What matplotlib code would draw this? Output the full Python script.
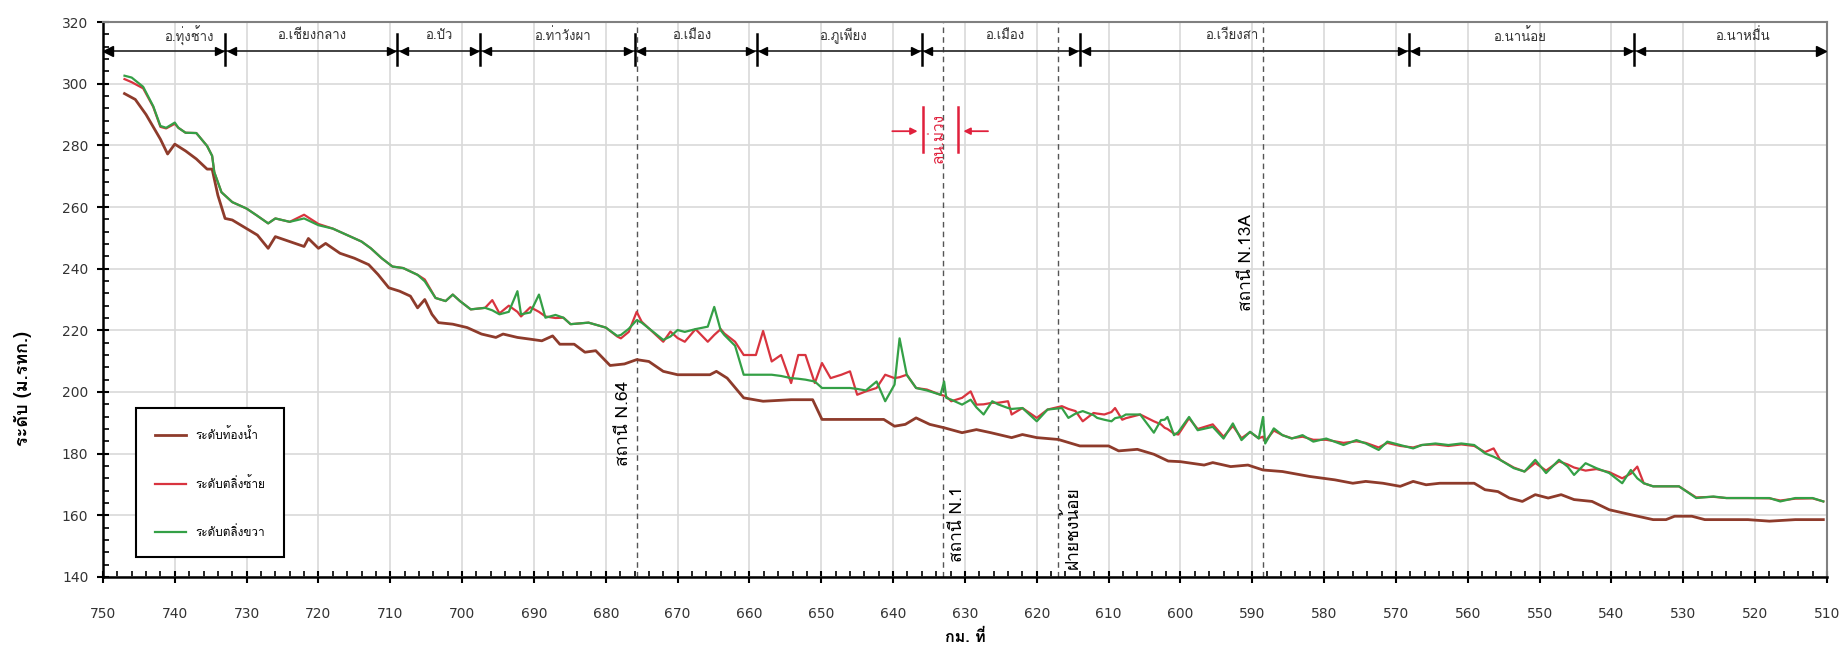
import numpy as np
import matplotlib
matplotlib.use("Agg")
import matplotlib.pyplot as plt
from matplotlib import font_manager, ft2font
from matplotlib.ticker import MultipleLocator

# find a font that can draw Thai
thai_font = None
for f in sorted(font_manager.findSystemFonts()):
    try:
        if ord("ก") in ft2font.FT2Font(f).get_charmap():
            thai_font = font_manager.FontProperties(fname=f).get_name()
            break
    except Exception:
        pass
fams = ["DejaVu Sans"]
if thai_font:
    fams = [thai_font, "DejaVu Sans"]
plt.rcParams["font.family"] = fams

# ---- data ----
km_bed = [747, 745.5, 744, 742, 741, 740, 738.5, 737, 735.5, 734.8, 734, 733, 732, 730,
          728.5, 727, 726, 724, 722, 721.4, 720, 719, 717, 715, 713, 711.7, 710.2, 708.7,
          707.2, 706.2, 705.2, 704.2, 703.3, 701.3, 699.3, 697.3, 695.3, 694.3, 692.3,
          690.4, 688.9, 687.4, 686.4, 684.4, 682.9, 681.4, 679.4, 677.4, 675.7, 674, 672,
          670, 665.5, 664.6, 663.1, 660.8, 658.1, 654.2, 651.2, 649.9, 646, 641.3, 639.8,
          638.3, 636.8, 634.9, 632.9, 630.4, 628.4, 626.4, 623.5, 622, 620, 617, 614, 610,
          608.6, 606, 603.7, 601.7, 600, 596.7, 595.5, 593, 590.6, 588.5, 585.8, 582,
          578.5, 576, 574.2, 571.8, 569.4, 567.6, 565.8, 563.9, 561.5, 559.1, 557.6,
          555.8, 554.2, 552.4, 550.6, 548.8, 547, 545.2, 542.7, 540.3, 537.3, 534.2,
          532.4, 531.2, 528.8, 527, 524, 521, 518, 514.4, 510.5]
bed = [296.8, 294.9, 290, 282, 277.2, 280.4, 278.2, 275.6, 272.3, 272.3, 263.8, 256.3,
       255.8, 253, 250.9, 246.6, 250.4, 248.8, 247.2, 249.8, 246.6, 248.2, 245, 243.4,
       241.3, 238.1, 233.8, 232.7, 231.1, 227.3, 230, 225.2, 222.5, 222, 220.9, 218.8,
       217.7, 218.8, 217.7, 217.1, 216.6, 218.2, 215.5, 215.5, 212.9, 213.4, 208.6,
       209.1, 210.5, 209.9, 206.7, 205.6, 205.6, 206.7, 204.5, 198.1, 197, 197.5, 197.5,
       191.1, 191.1, 191.1, 188.9, 189.5, 191.6, 189.5, 188.4, 186.8, 187.8, 186.8,
       185.2, 186.2, 185.2, 184.6, 182.5, 182.5, 180.9, 181.4, 179.8, 177.6, 177.4,
       176.3, 177.1, 175.8, 176.3, 174.7, 174.2, 172.6, 171.5, 170.4, 171, 170.4, 169.4,
       171, 169.9, 170.4, 170.4, 170.4, 168.3, 167.7, 165.6, 164.5, 166.7, 165.6, 166.7,
       165.1, 164.5, 161.8, 160.2, 158.6, 158.6, 159.7, 159.7, 158.6, 158.6, 158.6,
       158.1, 158.6, 158.6]

km_bank = [747, 746, 744.4, 743, 742, 741.2, 740, 739.5, 738.5, 737, 735.5, 734.8, 734.5,
           733.5, 732, 730, 728.6, 727, 726, 724, 722, 720, 718, 716, 714, 712.7, 711.2,
           709.7, 708.2, 706.2, 705.2, 703.7, 702.3, 701.3, 700.3, 698.8, 696.8, 695.8,
           694.8, 693.5, 692.3, 691.8, 690.5, 689.3, 688.4, 687, 685.9, 684.9, 682.4, 680,
           678.4, 677.9, 676.8, 675.7, 675, 672, 671, 670, 669, 667.5, 665.8, 664.9, 664,
           663.5, 662, 660.8, 659.1, 658.1, 656.9, 655.6, 654.2, 653.2, 652.2, 650.9,
           649.9, 648.7, 647.2, 646, 645, 643.8, 642.3, 641.1, 639.8, 639.1, 638.1, 636.8,
           635.3, 633.4, 632.9, 632.6, 631.9, 630.4, 629.2, 628.4, 627.4, 626.2, 625.4,
           624, 623.5, 622, 620, 618.5, 616.5, 615.6, 614.6, 613.6, 612.1, 611.6, 610.6,
           609.6, 609.1, 608.1, 607.6, 605.6, 603.7, 602.7, 602.2, 601.8, 600.9, 600.3,
           598.8, 597.6, 595.5, 594, 592.7, 591.5, 590.3, 589.1, 588.5, 588.2, 587, 585.8,
           584.5, 583, 581.5, 579.7, 577.3, 575.5, 574.2, 572.4, 571.2, 569.4, 567.6,
           566.4, 564.5, 562.7, 560.9, 559.1, 557.6, 556.4, 555.5, 553.6, 552.1, 550.6,
           549.1, 547.3, 546.1, 545.2, 543.6, 542.1, 540.3, 538.5, 537.3, 536.4, 535.5,
           534.2, 532.4, 530.6, 528.2, 525.8, 524, 521, 518, 516.5, 514.4, 512, 510.5]
right_bank = [302.6, 302, 299, 292.7, 286.3, 285.7, 287.4, 285.7, 284.1, 284, 279.8, 276.6,
              271.3, 264.8, 261.6, 259.5, 257.3, 254.7, 256.3, 255.2, 256.3, 254.1, 253,
              250.9, 248.8, 246.6, 243.4, 240.7, 240.2, 238, 235.9, 230.5, 229.5, 231.6,
              229.5, 226.8, 227.3, 226.5, 225.2, 226, 232.7, 225.2, 225.8, 231.6, 224.1,
              225, 224.1, 222, 222.5, 220.9, 218.2, 218.5, 220.5, 223.3, 222.5, 216.9, 218,
              220.1, 219.5, 220.4, 221.2, 227.6, 220, 218.5, 215, 205.6, 205.6, 205.6,
              205.6, 205.2, 204.5, 204.3, 204, 203.4, 201.3, 201.3, 201.3, 201.3, 201,
              200.5, 203.4, 197, 202.4, 217.4, 205.6, 201.3, 200.5, 199.1, 203.4, 198.1,
              197.5, 195.9, 197.5, 195, 192.7, 197, 196, 194.8, 194.5, 194.8, 190.5, 194.3,
              194.8, 191.6, 193, 193.8, 192.5, 191.6, 191, 190.5, 191.5, 192, 192.7, 192.7,
              186.8, 190.9, 191, 191.9, 186, 187, 191.9, 187.6, 188.7, 184.9, 189.8, 184.4,
              187.1, 184.9, 191.9, 183.3, 188.2, 186, 184.9, 186, 183.9, 184.9, 182.8,
              184.4, 183.3, 181.2, 183.9, 182.8, 181.7, 182.8, 183.3, 182.8, 183.3, 182.8,
              180.1, 179, 178, 175.3, 174.2, 178, 173.7, 178, 175.8, 173.1, 176.9, 175.3,
              173.7, 170.4, 174.7, 172, 170.4, 169.4, 169.4, 169.4, 165.6, 166.1, 165.6,
              165.6, 165.6, 164.5, 165.6, 165.6, 164.5]
left_bank = [301.5, 300.5, 298.5, 292.5, 286, 285.5, 287, 285.7, 284.1, 284, 279.8, 276.6,
             271.3, 264.8, 261.6, 259.5, 257.3, 254.7, 256.3, 255.2, 257.5, 254.5, 253,
             250.9, 248.8, 246.6, 243.4, 240.7, 240.2, 238, 236.5, 230.5, 229.5, 231.6,
             229.5, 226.8, 227.3, 229.8, 225.5, 228, 226, 224.5, 227.5, 226, 224.5, 224,
             224.1, 222, 222.5, 220.9, 218, 217.4, 219.5, 226, 222.8, 216.3, 219.6, 217.5,
             216.3, 220.4, 216.3, 218.5, 220.4, 219, 216.3, 212, 212, 219.8, 209.9, 212,
             202.9, 212, 212, 202.9, 209.4, 204.5, 205.6, 206.7, 199.1, 200.2, 201.3,
             205.6, 204.5, 204.8, 205.6, 201.3, 200.8, 199.1, 198.8, 198.5, 197, 198.1,
             200.2, 195.9, 196, 196.5, 196.5, 197, 192.7, 194.8, 191.6, 194.3, 195.4,
             194.5, 193.8, 190.5, 193.2, 193, 192.7, 193.5, 194.8, 191, 191.5, 192.7,
             190.5, 189.5, 188.4, 188, 186.5, 186.2, 191.5, 188, 189.5, 185.5, 189, 185,
             187, 185, 185.5, 184, 187.5, 186, 185, 185.5, 184.5, 184.5, 183.5, 184, 183.5,
             182, 183.5, 182.5, 182, 182.8, 183, 182.5, 183, 182.5, 180.5, 181.7, 178,
             175.5, 174.2, 177, 174.5, 177.5, 176.5, 175.5, 174.5, 175, 174, 172, 173.5,
             175.8, 170.4, 169.4, 169.4, 169.4, 165.8, 166, 165.6, 165.6, 165.5, 164.8,
             165.4, 165.5, 164.5]

series_labels = ["ระดับท้องน้ำ", "ระดับตลิ่งซ้าย", "ระดับตลิ่งขวา"]

district_bounds = [733, 709, 697.5, 676, 659, 636, 614, 568.2, 536.8]
district_names = ["อ.ทุ่งช้าง", "อ.เชียงกลาง", "อ.ปัว", "อ.ท่าวังผา", "อ.เมือง",
                  "อ.ภูเพียง", "อ.เมือง", "อ.เวียงสา", "อ.นาน้อย", "อ.นาหมื่น"]
district_label_km = [738, 721, 703.3, 686, 668, 647, 624.5, 592.8, 552.8, 521.7]

station_km = [675.7, 633, 617, 588.5]
station_names = ["สถานี N.64", "สถานี N.1", "ฝายชงน้อย", "สถานี N.13A"]
station_text_km = [677.5, 631, 615.1, 590.7]
station_text_y = [190, 157, 156, 242]

# ---- figure ----
fig = plt.figure(figsize=(18.45, 6.49), dpi=100)
ax = fig.add_axes([0.0558, 0.111, 0.9344, 0.855])

c_bed = "#8e3b2b"
c_left = "#d8343f"
c_right = "#34a046"

ax.plot(km_bed, bed, color=c_bed, lw=2, label=series_labels[0], zorder=3)
ax.plot(km_bank, left_bank, color=c_left, lw=1.6, label=series_labels[1], zorder=3)
ax.plot(km_bank, right_bank, color=c_right, lw=1.6, label=series_labels[2], zorder=3)

ax.set_xlim(750, 510)
ax.set_ylim(140, 320)
ax.xaxis.set_major_locator(MultipleLocator(10))
ax.xaxis.set_minor_locator(MultipleLocator(2))
ax.yaxis.set_major_locator(MultipleLocator(20))
ax.yaxis.set_minor_locator(MultipleLocator(4))
ax.grid(True, which="major", color="#d9d9d9", lw=1.2, zorder=0)
ax.tick_params(which="major", direction="inout", length=9, width=1.5, labelsize=10,
               colors="black", pad=17)
ax.tick_params(axis="y", which="major", pad=6)
ax.tick_params(which="minor", direction="in", length=4, width=1.2)
for lab in ax.get_xticklabels() + ax.get_yticklabels():
    lab.set_family("DejaVu Sans")
    lab.set_color("#333333")
for s in ["left", "bottom"]:
    ax.spines[s].set_linewidth(1.8)
    ax.spines[s].set_color("black")
for s in ["top", "right"]:
    ax.spines[s].set_linewidth(1.5)
    ax.spines[s].set_color("#808080")

ax.set_ylabel("ระดับ (ม.รทก.)", fontsize=13, fontweight="bold")
ax.yaxis.set_label_coords(-0.041, 0.34)
ax.set_xlabel("กม. ที่", fontsize=11.5, fontweight="bold")
ax.xaxis.set_label_coords(0.5, -0.093)

# station lines
for k, name, tk, ty in zip(station_km, station_names, station_text_km, station_text_y):
    ax.axvline(k, color="#555555", lw=1, ls=(0, (4, 3)), zorder=2)
    ax.text(tk, ty, name, rotation=90, ha="center", va="center", fontsize=12.5, zorder=4)

# district arrows along the top
yl = 310.6
ax.plot([749.3, 510.8], [yl, yl], color="#333333", lw=1.3, zorder=4)
ax.plot(749.3, yl, marker="<", color="black", ms=7, zorder=5)
ax.plot(510.8, yl, marker=">", color="black", ms=7, zorder=5)
for b in district_bounds:
    ax.plot([b, b], [306, 316], color="black", lw=1.8, zorder=5)
    ax.plot(b + 0.9, yl, marker=">", color="black", ms=6, zorder=5)
    ax.plot(b - 0.9, yl, marker="<", color="black", ms=6, zorder=5)
for k, name in zip(district_label_km, district_names):
    ax.text(k, 315.5, name, ha="center", va="center", fontsize=9.5, color="#333333", zorder=5)

# tributary mark
red = "#e0203c"
for b in [635.9, 630.9]:
    ax.plot([b, b], [277.8, 292.4], color=red, lw=1.8, zorder=5)
ax.annotate("", xy=(636.2, 284.6), xytext=(640.5, 284.6),
            arrowprops=dict(arrowstyle="-|>", color=red, lw=1.3))
ax.annotate("", xy=(630.6, 284.6), xytext=(626.4, 284.6),
            arrowprops=dict(arrowstyle="-|>", color=red, lw=1.3))
ax.text(633.8, 282.5, "ลน.ม่วง", rotation=90, ha="center", va="center", fontsize=11,
        color=red, zorder=5)

leg = ax.legend(loc="lower left", bbox_to_anchor=(0.016, 0.025), fontsize=8.5,
                labelspacing=3.0, handlelength=2.6, borderpad=1.6, fancybox=False,
                edgecolor="black", framealpha=1)
leg.get_frame().set_linewidth(1.5)

fig.savefig("out.png", dpi=100)
